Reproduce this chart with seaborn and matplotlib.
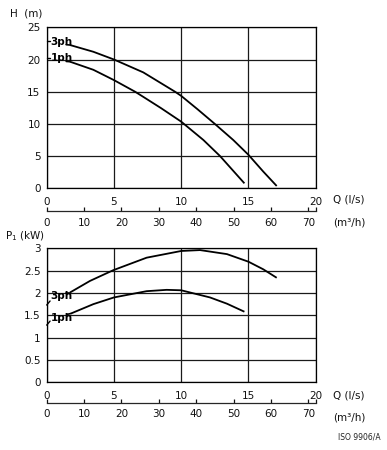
import matplotlib
matplotlib.use("Agg")
import matplotlib.pyplot as plt
import seaborn as sns
import pandas as pd

# ---- data ----
q_h_3ph = [1.73, 3.47, 5.0, 7.18, 9.54, 10.0, 11.2, 12.5, 13.87, 15.0, 16.1, 17.1]
h_3ph   = [22.25, 21.2, 20.0, 18.0, 15.0, 14.35, 12.3, 10.0, 7.5, 5.2, 2.6, 0.36]
q_h_1ph = [1.73, 3.47, 5.0, 6.57, 7.18, 8.5, 10.0, 11.65, 12.89, 14.7]
h_1ph   = [19.66, 18.4, 16.8, 15.0, 14.2, 12.45, 10.35, 7.5, 5.0, 0.77]

q_p_3ph = [1.73, 3.22, 4.95, 7.43, 10.0, 11.4, 13.4, 15.0, 16.1, 17.1]
p_3ph   = [2.01, 2.27, 2.51, 2.79, 2.94, 2.96, 2.87, 2.70, 2.53, 2.34]
q_p_1ph = [1.8, 3.47, 5.0, 7.43, 8.92, 10.0, 12.14, 13.4, 14.7]
p_1ph   = [1.54, 1.75, 1.90, 2.04, 2.07, 2.06, 1.90, 1.76, 1.58]

x_ticks = [0, 5, 10, 15, 20]
h_ticks = [0, 5, 10, 15, 20, 25]
p_ticks = [0, 0.5, 1, 1.5, 2, 2.5, 3]
p_tick_labels = ["0", "0.5", "1", "1.5", "2", "2.5", "3"]
m3h_ticks = [0, 10, 20, 30, 40, 50, 60, 70]
series_names = ["3ph", "1ph"]

LS_TO_M3H = 3.6

df_h = pd.concat([
    pd.DataFrame({"Q": q_h_3ph, "val": h_3ph, "phase": "3ph"}),
    pd.DataFrame({"Q": q_h_1ph, "val": h_1ph, "phase": "1ph"}),
])
df_p = pd.concat([
    pd.DataFrame({"Q": q_p_3ph, "val": p_3ph, "phase": "3ph"}),
    pd.DataFrame({"Q": q_p_1ph, "val": p_1ph, "phase": "1ph"}),
])

sns.set_style("white")
plt.rcParams["font.family"] = ["DejaVu Sans"]

W, H = 387, 450
fig = plt.figure(figsize=(W / 100, H / 100), dpi=100)

def axrect(left, top, right, bottom):
    return [left / W, 1 - bottom / H, (right - left) / W, (bottom - top) / H]

ax1 = fig.add_axes(axrect(46.7, 27.3, 315.7, 188.3))
ax2 = fig.add_axes(axrect(46.7, 248.3, 315.7, 382.3))

pal = {"3ph": "black", "1ph": "black"}
sns.lineplot(data=df_h, x="Q", y="val", hue="phase", palette=pal, estimator=None,
             sort=False, legend=False, lw=1.3, ax=ax1)
sns.lineplot(data=df_p, x="Q", y="val", hue="phase", palette=pal, estimator=None,
             sort=False, legend=False, lw=1.3, ax=ax2)
for ax in (ax1, ax2):
    for ln in ax.get_lines():
        ln.set_solid_joinstyle("round")
        ln.set_solid_capstyle("butt")

fs = 7.5
for ax, yt, ylab, ylim, sec_off in [
    (ax1, h_ticks, [str(t) for t in h_ticks], (0, 25), -23 / 161),
    (ax2, p_ticks, p_tick_labels, (0, 3), -20.7 / 134),
]:
    ax.set_xlim(0, 20)
    ax.set_ylim(*ylim)
    ax.set_xticks(x_ticks)
    ax.set_xticklabels([str(t) for t in x_ticks])
    ax.set_yticks(yt)
    ax.set_yticklabels(ylab)
    ax.set_xlabel("")
    ax.set_ylabel("")
    ax.grid(True, color="#1a1a1a", lw=0.9)
    ax.set_axisbelow(True)
    for s in ax.spines.values():
        s.set_visible(True)
        s.set_color("black")
        s.set_linewidth(0.9)
    ax.tick_params(axis="x", length=0, pad=6.5, labelsize=fs, colors="#111")
    ax.tick_params(axis="y", length=0, pad=4.5, labelsize=fs, colors="#111")
    sec = ax.secondary_xaxis(sec_off, functions=(lambda x: x * LS_TO_M3H,
                                                 lambda x: x / LS_TO_M3H))
    sec.set_xticks(m3h_ticks)
    sec.set_xticklabels([str(t) for t in m3h_ticks])
    sec.set_xticks([72], minor=True)
    sec.tick_params(axis="x", which="both", direction="in", length=3, width=0.9,
                    pad=4.5, labelsize=fs, colors="#111")
    sec.spines["bottom"].set_linewidth(0.9)
    for s in ["top", "left", "right"]:
        if s in sec.spines:
            sec.spines[s].set_visible(False)

# series labels
lab_kw = dict(fontsize=fs, fontweight="bold", va="center", ha="left", color="black")
ax1.text(0.3, 22.7, series_names[0], **lab_kw)
ax1.text(0.3, 20.2, series_names[1], **lab_kw)
ax1.plot([0, 0.25], [22.8, 22.8], color="black", lw=1.0, clip_on=False)
ax1.plot([0, 0.25], [20.3, 20.3], color="black", lw=1.0, clip_on=False)
ax1.plot([1.45, 1.73], [22.3, 22.25], color="black", lw=1.2)
ax1.plot([1.45, 1.73], [19.7, 19.66], color="black", lw=1.2)

ax2.text(0.3, 1.93, series_names[0], **lab_kw)
ax2.text(0.3, 1.44, series_names[1], **lab_kw)
ax2.plot([0.0, 0.25], [1.73, 1.82], color="black", lw=1.0, clip_on=False)
ax2.plot([0.0, 0.25], [1.28, 1.37], color="black", lw=1.0, clip_on=False)
ax2.plot([1.45, 1.73], [2.01, 2.01], color="black", lw=1.2)
ax2.plot([1.5, 1.8], [1.52, 1.54], color="black", lw=1.2)

# axis titles
tk = dict(fontsize=fs, color="#111", va="center", ha="left")
fig.text(10 / W, 1 - 13 / H, "H  (m)", **tk)
fig.text(5 / W, 1 - 236 / H, "P$_1$ (kW)", **tk)
for yq, ym in [(200, 222), (395, 417)]:
    fig.text(333 / W, 1 - yq / H, "Q (l/s)", **tk)
    fig.text(333 / W, 1 - ym / H, "(m³/h)", **tk)
fig.text(338 / W, 1 - 437 / H, "ISO 9906/A", fontsize=5.5, color="#222",
         va="center", ha="left")

fig.savefig("out.png", dpi=100)
